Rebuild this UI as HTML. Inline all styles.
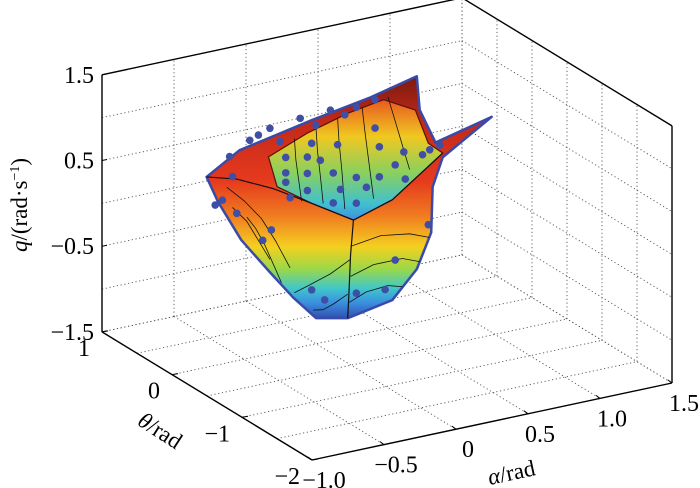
<!DOCTYPE html>
<html><head><meta charset="utf-8">
<style>
html,body{margin:0;padding:0;background:#fff;}
svg{display:block;font-family:"Liberation Serif",serif;}
</style></head>
<body>
<svg id="chart" width="700" height="488" viewBox="0 0 700 488" xmlns="http://www.w3.org/2000/svg">
<defs>
<linearGradient id="outerGrad" gradientUnits="userSpaceOnUse" x1="0" y1="76" x2="0" y2="320">
<stop offset="0" stop-color="#7a1a10"/>
<stop offset="0.18" stop-color="#c02818"/>
<stop offset="0.43" stop-color="#e63a1e"/>
<stop offset="0.57" stop-color="#f07a20"/>
<stop offset="0.7" stop-color="#f4d020"/>
<stop offset="0.79" stop-color="#9cd848"/>
<stop offset="0.87" stop-color="#40c8c8"/>
<stop offset="0.93" stop-color="#3a8ee0"/>
<stop offset="1" stop-color="#3048a8"/>
</linearGradient>
<linearGradient id="innerGrad" gradientUnits="userSpaceOnUse" x1="0" y1="100" x2="0" y2="222">
<stop offset="0" stop-color="#e85a20"/>
<stop offset="0.3" stop-color="#f0c820"/>
<stop offset="0.6" stop-color="#88d060"/>
<stop offset="0.85" stop-color="#40c0d0"/>
<stop offset="1" stop-color="#4088e0"/>
</linearGradient>
<clipPath id="outerClip"><polygon id="clipPoly" points="0,0"/></clipPath>
</defs>
<g id="grid"></g>
<g id="surf"></g>
<g id="dots"></g>
<g id="axes"></g>
<g id="labels"></g>
<text transform="translate(27,205) rotate(-90)" text-anchor="middle" font-size="23"><tspan font-style="italic">q</tspan>/(rad·s<tspan font-size="14" dy="-8">−1</tspan><tspan dy="8">)</tspan></text>
<text transform="translate(156,437) rotate(33)" text-anchor="middle" font-size="23"><tspan font-style="italic">θ</tspan>/rad</text>
<text transform="translate(513,480) rotate(-12)" text-anchor="middle" font-size="23"><tspan font-style="italic">α</tspan>/rad</text>
</svg>
<script>
// axis ranges & ticks
const alphaTicks = [-1.0, -0.5, 0, 0.5, 1.0, 1.5];
const alphaTickLabels = ["−1.0", "−0.5", "0", "0.5", "1.0", "1.5"];
const thetaTicks = [1, 0, -1, -2];
const thetaTickLabels = ["1", "0", "−1", "−2"];
const qTicks = [1.5, 0.5, -0.5, -1.5];
const qTickLabels = ["1.5", "0.5", "−0.5", "−1.5"];
const qGrid = [1.5, 1.0, 0.5, 0, -0.5, -1.0, -1.5];
// scatter data (alpha, theta, q)
const dotAlpha = [-0.21,-0.21,-0.21,-0.06,-0.06,-0.06,-0.03,0.12,0.12,0.15,0.28,0.28,0.28,0.41,0.41,0.44,0.44,0.61,0.74,0.55,0.17,0.03,-0.58,-0.55,-0.31,-0.37,-0.03,0.28,0.55,-0.65,0.79,0.86,-0.11,0.10,0.20,-0.32,-0.46,0.06,0.48,-0.18,-0.70,0.78,-0.60,-0.40,-0.25,0.0,0.35,0.62];
const dotTheta = [0,0,0,0,0,0,0,0,0,0,0,0,0,0,0,0,0,0,0,0,0,0,0,0,0,0,0,0,0,0,0,0,0,0,0,0,0,0,0,0,0,0,0,0,0,0,0,0];
const dotQ = [0.75,0.57,0.46,0.70,0.51,0.31,0.85,0.45,0.10,0.77,1.16,0.34,0.04,1.2,0.87,0.64,0.29,0.52,0.44,0.39,0.24,0.63,0.66,0.22,-0.06,-0.16,-0.86,-1.01,-0.72,0.41,0.48,0.51,1.17,1.19,1.1,1.13,1.04,-1.01,-1.04,0.27,0.37,-0.39,0.9,1.08,0.95,1.05,0.2,0.2];
// surface outline (theta = 0 slice), alpha & q
const outerAlpha = [-0.76,-0.53,-0.03,0.38,0.70,0.72,0.83,1.22,0.88,0.81,0.80,0.70,0.53,0.22,0.0,-0.16,-0.32,-0.52,-0.68];
const outerQ = [0.72,0.95,1.12,1.24,1.37,0.97,0.55,0.71,0.36,0.04,-0.49,-0.88,-1.18,-1.28,-1.20,-0.90,-0.55,-0.10,0.40];
const innerAlpha = [-0.33,-0.06,0.22,0.47,0.69,0.78,0.88,0.53,0.26,-0.03,-0.27];
const innerQ = [0.80,0.98,1.11,1.18,0.98,0.56,0.41,-0.01,-0.15,0.15,0.43];
const creaseAlpha = [0.26,0.24,0.23,0.22];
const creaseQ = [-0.15,-0.55,-0.95,-1.28];
const rimAlpha = [-0.76,-0.55,-0.30,-0.03,0.26,0.53,0.88];
const rimQ = [0.72,0.62,0.42,0.15,-0.15,-0.01,0.41];
// contour lines (alpha arrays, q arrays)
const contourAlpha = [
 [-0.15,-0.14,-0.12,-0.10],[0.0,0.01,0.03,0.05],[0.15,0.16,0.18,0.20],[0.32,0.34,0.37,0.40],[0.50,0.55,0.60,0.65],
 [0.24,0.45,0.65,0.80],[0.24,0.40,0.60,0.72],[0.23,0.35,0.50,0.60],
 [-0.62,-0.50,-0.38,-0.28,-0.18],[-0.58,-0.48,-0.40,-0.32],[-0.48,-0.42,-0.36,-0.30,-0.24],
 [0.24,0.10,-0.05,-0.15],[0.22,0.12,0.05,-0.02]
];
const contourQ = [
 [0.95,0.70,0.45,0.20],[1.02,0.75,0.45,0.12],[1.08,0.80,0.45,0.0],[1.15,0.85,0.45,0.05],[1.2,0.9,0.6,0.3],
 [-0.45,-0.40,-0.45,-0.55],[-0.80,-0.72,-0.72,-0.80],[-1.10,-1.02,-1.00,-1.05],
 [0.55,0.35,0.10,-0.20,-0.55],[0.30,0.10,-0.15,-0.40],[0.15,0.0,-0.20,-0.45,-0.70],
 [-0.60,-0.72,-0.80,-0.85],[-1.0,-1.08,-1.12,-1.10]
];

const NS="http://www.w3.org/2000/svg";
const O={x:312,y:460};
function P(a,t,q){
  return [O.x+144*(a+1)-70*(t+2), O.y-30.8*(a+1)-42.7*(t+2)-85.7*(q+1.5)];
}
function el(tag,attrs,parent){const e=document.createElementNS(NS,tag);for(const k in attrs)e.setAttribute(k,attrs[k]);parent.appendChild(e);return e;}
const grid=document.getElementById('grid'),axes=document.getElementById('axes'),labels=document.getElementById('labels'),surf=document.getElementById('surf'),dots=document.getElementById('dots');
const dash={stroke:'#555','stroke-width':0.9,'stroke-dasharray':'1.2 2.6',fill:'none'};
function line(p1,p2,attrs,parent,name){const l=el('line',Object.assign({x1:p1[0],y1:p1[1],x2:p2[0],y2:p2[1]},attrs),parent);

return l;}
qGrid.forEach(q=>{
  line(P(-1,1,q),P(1.5,1,q),dash,grid,'grid-line-q');
  line(P(1.5,1,q),P(1.5,-2,q),dash,grid,'grid-line-q');
});
alphaTicks.forEach(a=>{
  line(P(a,1,-1.5),P(a,1,1.5),dash,grid,'grid-line-alpha');
  line(P(a,1,-1.5),P(a,-2,-1.5),dash,grid,'grid-line-alpha');
});
[1,0.5,0,-0.5,-1,-1.5,-2].forEach(t=>{
  line(P(1.5,t,-1.5),P(1.5,t,1.5),dash,grid,'grid-line-theta');
  line(P(-1,t,-1.5),P(1.5,t,-1.5),dash,grid,'grid-line-theta');
});
function pts(A,Q){return A.map((a,i)=>P(a,0,Q[i]).join(',')).join(' ');}
document.getElementById('clipPoly').setAttribute('points',pts(outerAlpha,outerQ));
const outer=el('polygon',{points:pts(outerAlpha,outerQ),fill:'url(#outerGrad)',stroke:'#3a4aa8','stroke-width':2.5,'stroke-linejoin':'round'},surf);


const inner=el('polygon',{points:pts(innerAlpha,innerQ),fill:'url(#innerGrad)',stroke:'#5a1208','stroke-width':1.2},surf);


const cg=el('g',{'clip-path':'url(#outerClip)'},surf);


contourAlpha.forEach((A,i)=>{
  const c=el('polyline',{points:pts(A,contourQ[i]),fill:'none',stroke:'#111','stroke-width':0.8,'stroke-linejoin':'round'},cg);
  
  
});
const rim=el('polyline',{points:pts(rimAlpha,rimQ),fill:'none',stroke:'#111','stroke-width':1.2},surf);


const crease=el('polyline',{points:pts(creaseAlpha,creaseQ),fill:'none',stroke:'#111','stroke-width':1.2},surf);


dotAlpha.forEach((a,i)=>{const p=P(a,dotTheta[i],dotQ[i]);
const c=el('circle',{cx:p[0],cy:p[1],r:3.8,fill:'#3f4fa6'},dots);

});
const solid={stroke:'#000','stroke-width':1.4};
line(P(-1,1,-1.5),P(-1,1,1.5),solid,axes,'z-axis-line');
line(P(-1,1,1.5),P(1.5,1,1.5),solid,axes,'box-edge');
line(P(1.5,1,1.5),P(1.5,-2,1.5),solid,axes,'box-edge');
line(P(1.5,-2,1.5),P(1.5,-2,-1.5),solid,axes,'box-edge');
line(P(-1,1,-1.5),P(-1,-2,-1.5),solid,axes,'theta-axis-line');
line(P(-1,-2,-1.5),P(1.5,-2,-1.5),solid,axes,'alpha-axis-line');
qTicks.forEach((q,i)=>{const p=P(-1,1,q);
line(p,[p[0]+5,p[1]-1],{stroke:'#000','stroke-width':1},axes,'z-tick');
const t=el('text',{x:p[0]-8,y:p[1]+8,'text-anchor':'end','font-size':24},labels);t.textContent=qTickLabels[i];

});
thetaTicks.forEach((th,i)=>{const p=P(-1,th,-1.5);
line(p,[p[0]+6,p[1]-1],{stroke:'#000','stroke-width':1},axes,'theta-tick');
const t=el('text',{x:p[0]-12,y:p[1]+24,'text-anchor':'end','font-size':24},labels);t.textContent=thetaTickLabels[i];

});
alphaTicks.forEach((a,i)=>{const p=P(a,-2,-1.5);
line(p,[p[0]-4,p[1]-3],{stroke:'#000','stroke-width':1},axes,'alpha-tick');
const t=el('text',{x:p[0]+12,y:p[1]+28,'text-anchor':'middle','font-size':24},labels);t.textContent=alphaTickLabels[i];

});
</script>
</body></html>
